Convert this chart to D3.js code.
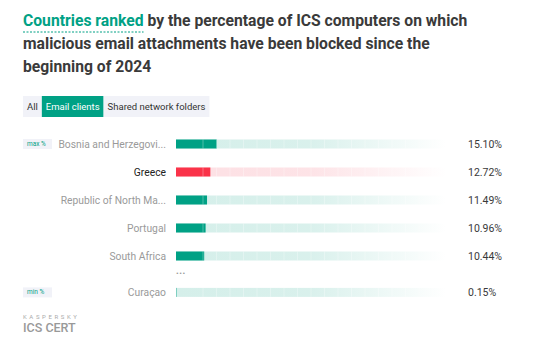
<!DOCTYPE html>
<html>
<head>
<meta charset="utf-8">
<script src="https://cdn.jsdelivr.net/npm/d3@7"></script>
<style>
  body { margin: 0; background: #fff; }
  svg { display: block; font-family: Roboto, "Noto Sans", sans-serif; }
</style>
</head>
<body>
<svg id="chart" width="551" height="344"></svg>
<script>
// data
const countries = ['Bosnia and Herzegovi...', 'Greece', 'Republic of North Ma...', 'Portugal', 'South Africa', 'Curaçao'];
const values = [15.10, 12.72, 11.49, 10.96, 10.44, 0.15];
const rowSlots = [0, 1, 2, 3, 4, 5.3];
const highlighted = ['Greece'];
const tabs = ['All', 'Email clients', 'Shared network folders'];
const activeTab = 'Email clients';
const titleLines = [
  ['Countries ranked', ' by the percentage of ICS computers on which'],
  ['', 'malicious email attachments have been blocked since the'],
  ['', 'beginning of 2024']
];

const colors = {
  teal: '#00a185',
  tealLight: '#d5efea',
  red: '#fa3349',
  redLight: '#fde0e4',
  text: '#3a3a3a',
  label: '#9a9a9a',
  badge: '#f1f2f8'
};

const svg = d3.select('#chart');
const defs = svg.append('defs');

function makeGradient(id, color) {
  let g = defs.append('linearGradient').attr('id', id)
    .attr('x1', '0%').attr('x2', '100%');
  g.append('stop').attr('offset', '0%').attr('stop-color', color).attr('stop-opacity', 1);
  g.append('stop').attr('offset', '50%').attr('stop-color', color).attr('stop-opacity', 0.9);
  g.append('stop').attr('offset', '100%').attr('stop-color', color).attr('stop-opacity', 0);
}
makeGradient('trackTeal', colors.tealLight);
makeGradient('trackRed', colors.redLight);

// title
let title = svg.append('text')
  .attr('font-size', 15.7)
  .attr('font-weight', 700)
  .attr('fill', colors.text);
titleLines.forEach(function(line, i) {
  let t = title.append('tspan').attr('x', 23).attr('y', 26 + i * 23);
  if (line[0]) {
    t.append('tspan').attr('fill', colors.teal).text(line[0]);
    title.append('tspan').text(line[1]);
  } else {
    t.text(line[1]);
  }
});
// dashed underline under the highlighted words
let hlWidth = title.select('tspan tspan').node().getComputedTextLength();
svg.append('line')
  .attr('x1', 23).attr('x2', 23 + hlWidth)
  .attr('y1', 32).attr('y2', 32)
  .attr('stroke', colors.teal)
  .attr('stroke-width', 1)
  .attr('stroke-dasharray', '2,1.5');

// tabs
let tabX = 23;
tabs.forEach(function(name) {
  let g = svg.append('g');
  let txt = g.append('text')
    .attr('x', tabX + 4)
    .attr('y', 109.5)
    .attr('font-size', 9.5)
    .attr('fill', name == activeTab ? '#fff' : '#333')
    .text(name);
  let w = txt.node().getComputedTextLength() + 8;
  g.insert('rect', 'text')
    .attr('x', tabX).attr('y', 96)
    .attr('width', w).attr('height', 21)
    .attr('fill', name == activeTab ? colors.teal : colors.badge);
  tabX += w;
});

// scales
const x = d3.scaleLinear().domain([0, 100]).range([176, 446]);
const y = d3.scaleLinear().domain([0, 4]).range([144, 256]);
const barH = 9;
const rows = countries.map(function(c, i) { return {name: c, value: values[i], slot: rowSlots[i]}; });

let row = svg.selectAll('.row')
  .data(rows)
  .enter().append('g')
  .attr('class', 'row')
  .attr('transform', function(d) { return 'translate(0,' + y(d.slot) + ')'; });

row.append('rect')
  .attr('x', x(0))
  .attr('y', -barH / 2)
  .attr('width', x(100) - x(0))
  .attr('height', barH)
  .attr('fill', function(d) { return highlighted.includes(d.name) ? 'url(#trackRed)' : 'url(#trackTeal)'; });

row.append('rect')
  .attr('x', x(0))
  .attr('y', -barH / 2)
  .attr('width', function(d) { return x(d.value) - x(0); })
  .attr('height', barH)
  .attr('fill', function(d) { return highlighted.includes(d.name) ? colors.red : colors.teal; });

// thin white dividers along the track
const dividers = d3.range(10, 100, 5);
row.selectAll('.div')
  .data(dividers)
  .enter().append('line')
  .attr('x1', function(d) { return x(d); })
  .attr('x2', function(d) { return x(d); })
  .attr('y1', -barH / 2)
  .attr('y2', barH / 2)
  .attr('stroke', '#fff')
  .attr('stroke-opacity', 0.3)
  .attr('stroke-width', 1);

row.append('text')
  .attr('x', 166)
  .attr('y', 4)
  .attr('text-anchor', 'end')
  .attr('font-size', 10.3)
  .attr('fill', function(d) { return highlighted.includes(d.name) ? '#222' : colors.label; })
  .text(function(d) { return d.name; });

row.append('text')
  .attr('x', 468)
  .attr('y', 4)
  .attr('font-size', 10.5)
  .attr('fill', colors.text)
  .text(function(d) { return d.value.toFixed(2) + '%'; });

// ellipsis between rows
svg.append('text')
  .attr('x', x(0))
  .attr('y', 276)
  .attr('font-size', 8)
  .attr('fill', '#999')
  .attr('letter-spacing', 0.5)
  .text('•••');

// max / min badges
[['max %', y(0)], ['min %', y(5.3)]].forEach(function(b) {
  svg.append('rect')
    .attr('x', 23).attr('y', b[1] - 5)
    .attr('width', 29).attr('height', 10)
    .attr('fill', colors.badge);
  svg.append('text')
    .attr('x', 27).attr('y', b[1] + 2)
    .attr('font-size', 6.5)
    .attr('fill', colors.teal)
    .text(b[0]);
});

// logo
svg.append('text')
  .attr('x', 23).attr('y', 319)
  .attr('font-size', 6)
  .attr('letter-spacing', 2.6)
  .attr('fill', '#aaa')
  .text('KASPERSKY');
svg.append('text')
  .attr('x', 23).attr('y', 332)
  .attr('font-size', 12.5)
  .attr('font-weight', 500)
  .attr('fill', '#999')
  .text('ICS CERT');
</script>
</body>
</html>
